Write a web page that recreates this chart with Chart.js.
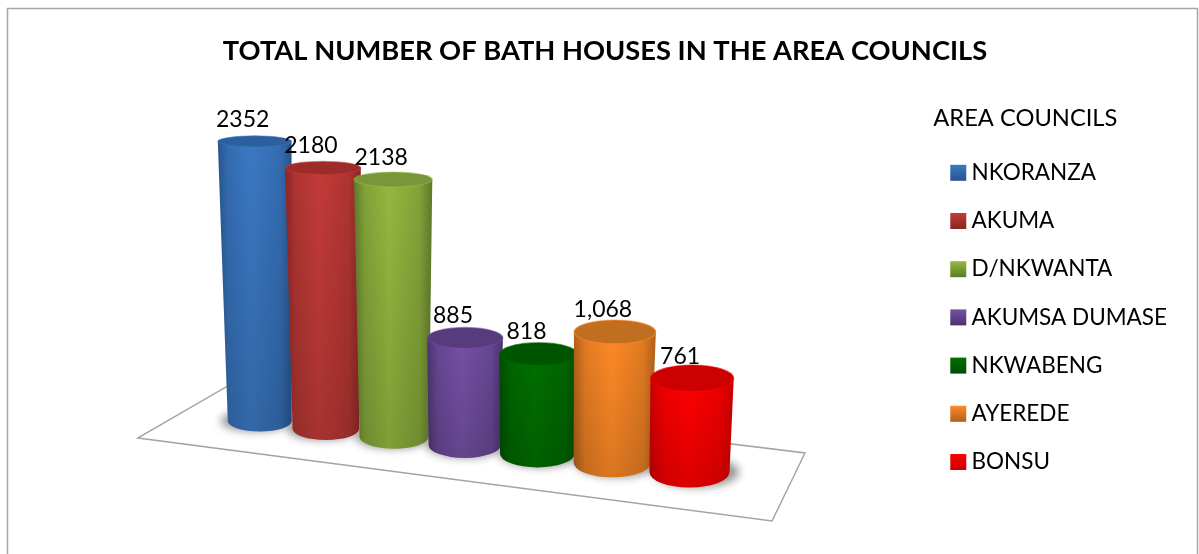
<!DOCTYPE html>
<html>
<head>
<meta charset="utf-8">
<title>Bath houses by area council</title>
<script src="https://cdn.jsdelivr.net/npm/chart.js@4"></script>
<style>
  html, body { margin: 0; padding: 0; background: #fff; }
  #wrap { width: 1199px; height: 554px; position: relative; }
</style>
</head>
<body>
<div id="wrap"><canvas id="chart"></canvas></div>
<script>
// Area councils and their bath house counts
const councils = ['NKORANZA', 'AKUMA', 'D/NKWANTA', 'AKUMSA DUMASE', 'NKWABENG', 'AYEREDE', 'BONSU'];
const bathHouses = [2352, 2180, 2138, 885, 818, 1068, 761];
const valueLabels = ['2352', '2180', '2138', '885', '818', '1,068', '761'];

// Cylinder shading: brightest band, shaded edge, end cap
const midColors = ['#3b78c3', '#c23b38', '#94b83f', '#7650a5', '#007000', '#ff8a26', '#ff0000'];
const edgeColors = ['#27558f', '#8a2624', '#5f7a2a', '#4b3270', '#004d00', '#b0601a', '#c90000'];
const capColors = ['#2c5f9d', '#9b2c2a', '#78973a', '#563b7d', '#005500', '#c06e20', '#cc0000'];

const FONT = 'Lato, "Open Sans", sans-serif';
const VANISH_X = 430;      // horizontal vanishing point of the vertical edges
const FLOOR_SLOPE = 0.1186; // drop of the floor per pixel along the row

function mix(a, b, f) {
  const ch = (h, p) => parseInt(h.substr(p, 2), 16);
  const v = p => Math.round(ch(a, p) * (1 - f) + ch(b, p) * f);
  return 'rgb(' + v(1) + ',' + v(3) + ',' + v(5) + ')';
}

function cylinderGeometry(el, i, n) {
  const t = i / (n - 1);
  const bx = el.x - 40 * t * (1 - t);
  const first = el.x - i * el.width;
  const by = el.base + FLOOR_SLOPE * (el.x - first) - 6 * t * (1 - t);
  const rb = el.width * (0.893 + 0.224 * t) / 2;
  const ryb = rb * 2 * (0.165 + 0.03 * t);
  const h = (el.base - el.y) * (0.99 + 0.035 * t);
  const tx = bx + (bx - VANISH_X) * 0.000108 * h;
  const ty = by - h;
  const rt = rb + 0.0175 * h;
  const ryt = ryb - 0.0145 * h - 1;
  return { bx, by, rb, ryb, tx, ty, rt, ryt };
}

function drawCylinder(ctx, el, i, n) {
  const g = cylinderGeometry(el, i, n);
  ctx.save();

  ctx.beginPath();
  ctx.moveTo(g.tx - g.rt, g.ty);
  ctx.lineTo(g.bx - g.rb, g.by);
  ctx.ellipse(g.bx, g.by, g.rb, g.ryb, 0, Math.PI, 0, true);
  ctx.lineTo(g.tx + g.rt, g.ty);
  ctx.closePath();

  const band = ctx.createLinearGradient(g.tx - g.rt, 0, g.tx + g.rt, 0);
  band.addColorStop(0, edgeColors[i]);
  band.addColorStop(0.14, mix(edgeColors[i], midColors[i], 0.65));
  band.addColorStop(0.45, midColors[i]);
  band.addColorStop(0.84, mix(edgeColors[i], midColors[i], 0.65));
  band.addColorStop(1, edgeColors[i]);
  ctx.fillStyle = band;
  ctx.fill();

  const fade = ctx.createLinearGradient(0, g.ty, 0, g.by + g.ryb);
  fade.addColorStop(0, 'rgba(0,0,0,0)');
  fade.addColorStop(1, 'rgba(0,0,0,0.14)');
  ctx.fillStyle = fade;
  ctx.fill();

  ctx.beginPath();
  ctx.ellipse(g.tx, g.ty, g.rt, g.ryt, 0, 0, Math.PI * 2);
  ctx.fillStyle = capColors[i];
  ctx.fill();
  ctx.strokeStyle = midColors[i];
  ctx.globalAlpha = 0.55;
  ctx.lineWidth = 1.2;
  ctx.stroke();

  ctx.restore();
}

const cylinderPlugin = {
  id: 'cylinders',
  beforeLayout(chart) {
    // The legend keeps the room its labels need even beside the spacer axis
    const legend = chart.legend;
    if (legend && !legend.widened) {
      const update = legend.update.bind(legend);
      legend.update = (w, h, m) => update(Math.max(w, 290), h, m);
      legend.widened = true;
    }
  },
  beforeDraw(chart) {
    // Page-wide frame, open along the bottom
    const ctx = chart.ctx;
    ctx.save();
    ctx.fillStyle = '#fff';
    ctx.fillRect(0, 0, chart.width, chart.height);
    ctx.strokeStyle = '#a6a6a6';
    ctx.lineWidth = 1.5;
    ctx.beginPath();
    ctx.moveTo(7.5, chart.height);
    ctx.lineTo(7.5, 8.5);
    ctx.lineTo(chart.width - 1.5, 8.5);
    ctx.lineTo(chart.width - 1.5, chart.height);
    ctx.stroke();
    ctx.restore();
  },
  beforeDatasetsDraw(chart) {
    const ctx = chart.ctx;
    const area = chart.chartArea;
    const y0 = chart.scales.y.getPixelForValue(0);
    const bars = chart.getDatasetMeta(0).data;
    const n = bars.length;

    // Floor of the 3D plot
    ctx.save();
    ctx.beginPath();
    ctx.moveTo(area.left - 86, y0 + 17);
    ctx.lineTo(area.left + 9, y0 - 38);
    ctx.lineTo(area.left + 581, y0 + 32);
    ctx.lineTo(area.left + 548, y0 + 100);
    ctx.closePath();
    ctx.fillStyle = '#fff';
    ctx.fill();
    ctx.strokeStyle = '#a3a3a3';
    ctx.lineWidth = 1.5;
    ctx.stroke();

    // Soft contact shadows, thrown away from the vanishing point
    ctx.filter = 'blur(4px)';
    ctx.fillStyle = 'rgba(0,0,0,0.42)';
    bars.forEach((el, i) => {
      const g = cylinderGeometry(el, i, n);
      ctx.beginPath();
      ctx.ellipse(g.bx + (g.bx - VANISH_X) * 0.025, g.by, g.rb + 3, g.ryb, 0, 0, Math.PI * 2);
      ctx.fill();
    });
    ctx.restore();

    bars.forEach((el, i) => {
      el.draw = c => drawCylinder(c, el, i, n);
    });
  },
  afterDatasetsDraw(chart) {
    const ctx = chart.ctx;
    const bars = chart.getDatasetMeta(0).data;
    ctx.save();
    ctx.font = '23px ' + FONT;
    ctx.fillStyle = '#000';
    ctx.textAlign = 'center';
    ctx.textBaseline = 'middle';
    bars.forEach((el, i) => {
      const g = cylinderGeometry(el, i, bars.length);
      ctx.fillText(valueLabels[i], g.tx - 12, g.ty - 22);
    });
    ctx.restore();
  },
  afterDraw(chart) {
    // Legend keys: small squares with a vertical shade
    const ctx = chart.ctx;
    const legend = chart.legend;
    ctx.save();
    legend.legendHitBoxes.forEach((box, i) => {
      const cy = box.top + box.height / 2;
      const x = legend.left + legend.options.labels.padding;
      const shade = ctx.createLinearGradient(0, cy - 8, 0, cy + 8);
      shade.addColorStop(0, midColors[i]);
      shade.addColorStop(1, edgeColors[i]);
      ctx.fillStyle = shade;
      ctx.fillRect(x, cy - 8, 16, 16);
    });
    ctx.restore();
  }
};

new Chart(document.getElementById('chart'), {
  type: 'bar',
  plugins: [cylinderPlugin],
  data: {
    labels: councils,
    datasets: [{
      label: 'AREA COUNCILS',
      data: bathHouses,
      backgroundColor: midColors,
      barPercentage: 1,
      categoryPercentage: 1,
      clip: false
    }]
  },
  options: {
    responsive: true,
    maintainAspectRatio: false,
    animation: false,
    events: [],
    layout: { padding: { left: 33, right: 22, top: 0, bottom: 0 } },
    scales: {
      x: { display: false },
      y: {
        min: -1108,
        max: 2675,
        position: 'left',
        ticks: { display: false },
        grid: { display: false },
        border: { display: false },
        afterFit: s => { s.width = 191; }
      },
      margin: {
        axis: 'y',
        position: 'right',
        ticks: { display: false },
        grid: { display: false },
        border: { display: false },
        afterFit: s => { s.width = 208; }
      }
    },
    plugins: {
      tooltip: { enabled: false },
      title: {
        display: true,
        text: 'TOTAL NUMBER OF BATH HOUSES IN THE AREA COUNCILS',
        color: '#000',
        font: { family: FONT, size: 27.3, weight: 'bold' },
        padding: { top: 35, bottom: 32 }
      },
      legend: {
        display: true,
        position: 'right',
        align: 'start',
        fullSize: false,
        title: {
          display: true,
          text: 'AREA COUNCILS',
          color: '#000',
          position: 'start',
          font: { family: FONT, size: 23.7 },
          padding: { top: 7, bottom: 5 }
        },
        labels: {
          color: '#111',
          font: { family: FONT, size: 22.5 },
          boxWidth: 10,
          boxHeight: 31.2,
          padding: 17,
          generateLabels: chart => chart.data.labels.map((text, index) => ({
            text, index, fillStyle: 'transparent', strokeStyle: 'transparent', lineWidth: 0, hidden: false
          }))
        }
      }
    }
  }
});
</script>
</body>
</html>
